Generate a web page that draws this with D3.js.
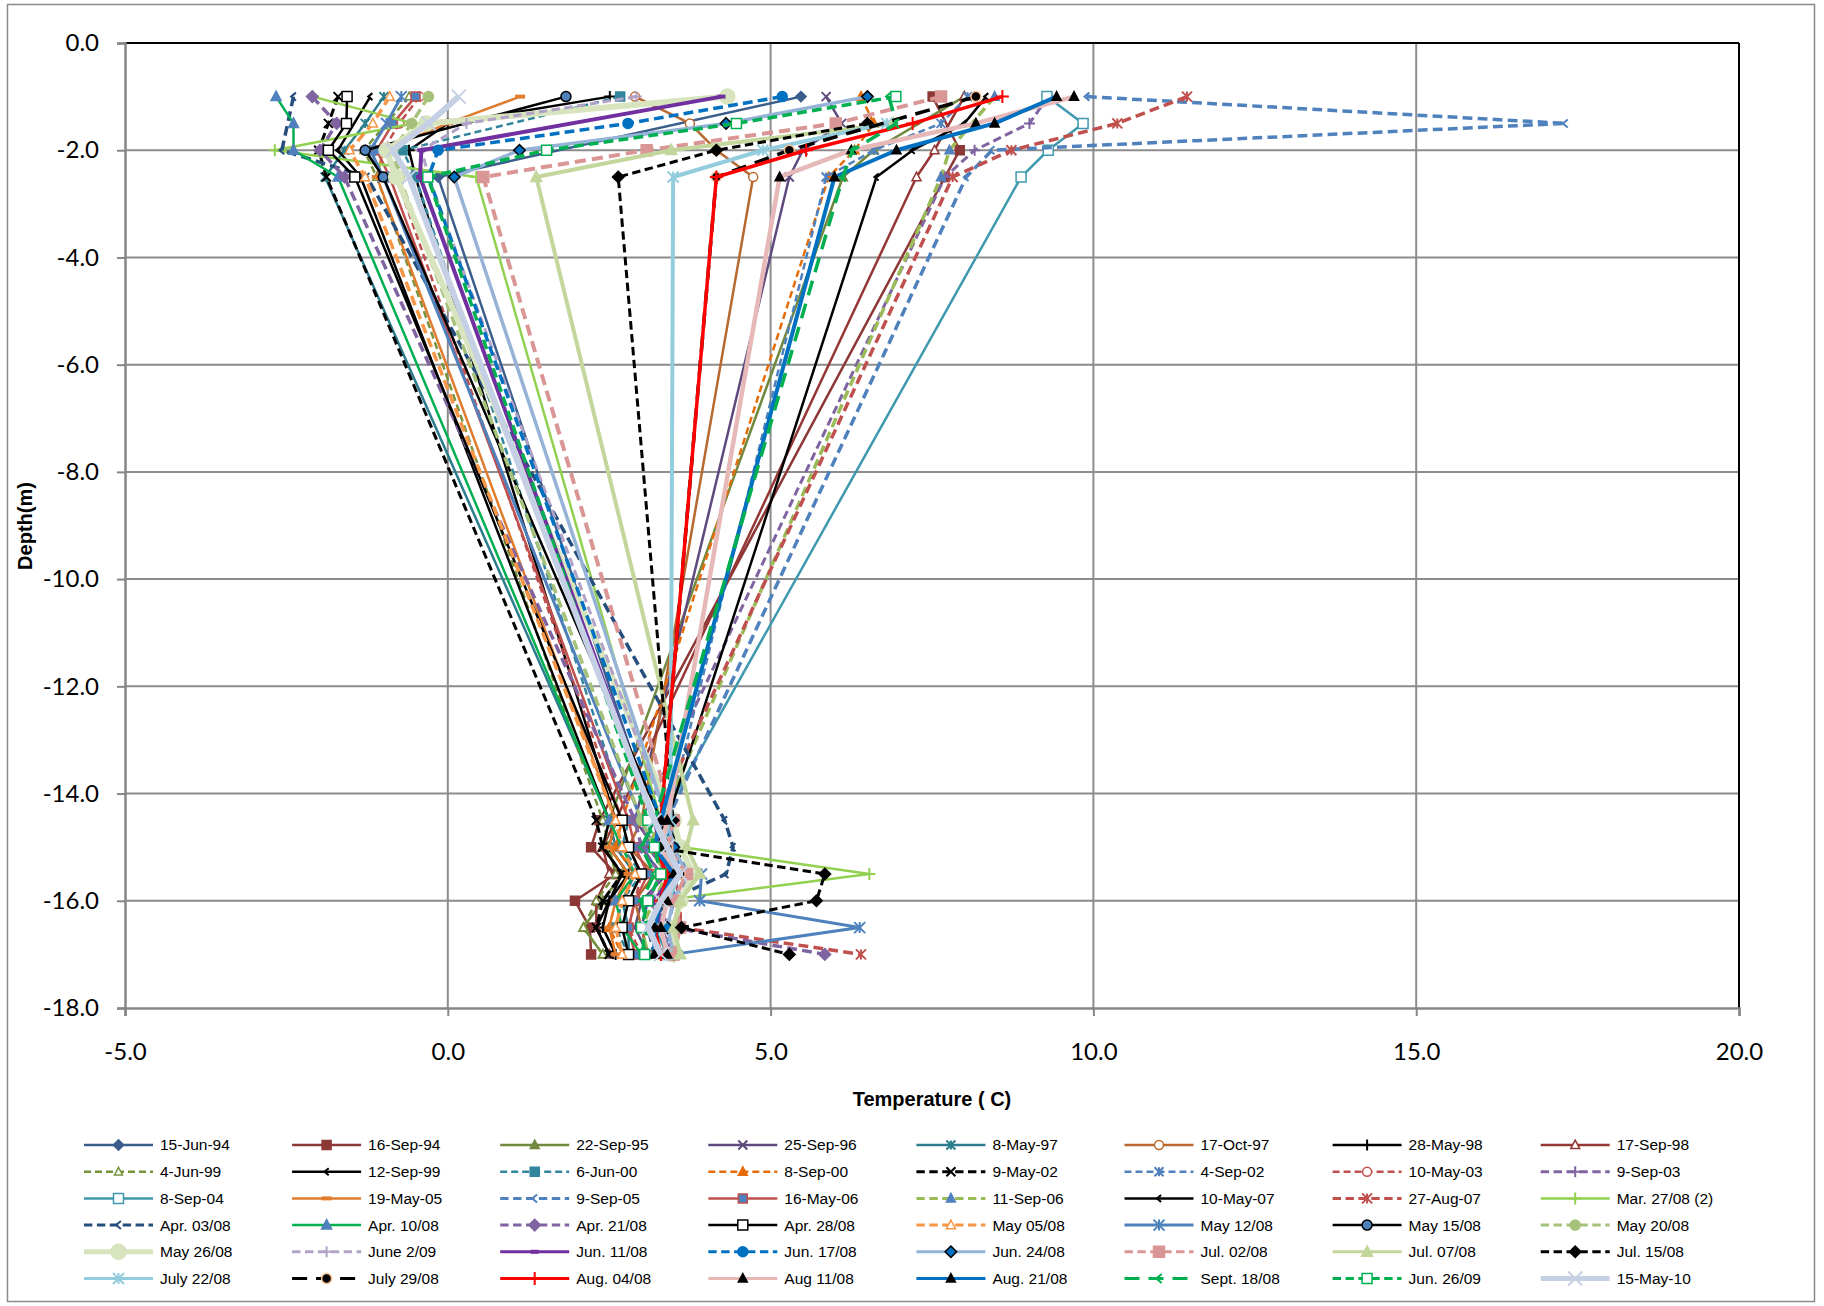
<!DOCTYPE html>
<html><head><meta charset="utf-8">
<script src="https://cdn.jsdelivr.net/npm/d3@7/dist/d3.min.js"></script>
<style>
html,body{margin:0;padding:0;background:#fff;}
svg{display:block;}
</style></head>
<body>
<svg id="c" width="1824" height="1306"></svg>
<script>
// ---------- DATA ----------
const depths = [-1, -1.5, -2, -2.5, -14.5, -15, -15.5, -16, -16.5, -17];
const seriesNames = [
 "15-Jun-94","16-Sep-94","22-Sep-95","25-Sep-96","8-May-97","17-Oct-97","28-May-98","17-Sep-98",
 "4-Jun-99","12-Sep-99","6-Jun-00","8-Sep-00","9-May-02","4-Sep-02","10-May-03","9-Sep-03",
 "8-Sep-04","19-May-05","9-Sep-05","16-May-06","11-Sep-06","10-May-07","27-Aug-07","Mar. 27/08 (2)",
 "Apr. 03/08","Apr. 10/08","Apr. 21/08","Apr. 28/08","May 05/08","May 12/08","May 15/08","May 20/08",
 "May 26/08","June 2/09","Jun. 11/08","Jun. 17/08","Jun. 24/08","Jul. 02/08","Jul. 07/08","Jul. 15/08",
 "July 22/08","July 29/08","Aug. 04/08","Aug 11/08","Aug. 21/08","Sept. 18/08","Jun. 26/09","15-May-10"
];
// temperatures (C) at the depths above, one row per series
const temps = [
 [5.47, null, null, -0.15, 3.2, 3.0, 3.3, 3.1, 3.0, 3.1],
 [7.51, null, 7.93, 7.7, 2.35, 2.22, 2.6, 1.97, 2.2, 2.22],
 [8.0, null, 6.6, 6.12, 2.5, 2.4, 2.7, 2.4, 2.1, 2.4],
 [5.86, 6.1, 5.5, 5.29, 2.9, 3.2, 3.4, 3.0, 2.9, 3.1],
 [-0.99, -1.28, -1.6, -1.9, 2.5, 2.6, 2.9, 2.7, 2.8, 2.8],
 [2.9, 3.75, 4.16, 4.73, 3.0, 2.8, 3.2, 2.9, 3.0, 3.1],
 [2.51, 0.0, -0.6, -0.5, 2.6, 2.5, 2.8, 2.5, 2.4, 2.6],
 [8.0, null, 7.54, 7.26, 2.6, 2.4, 2.5, 2.3, 2.3, 2.5],
 [-0.6, null, -1.3, -1.1, 2.4, 2.5, 2.6, 2.3, 2.1, 2.4],
 [-1.2, null, -1.7, -1.35, 2.5, 2.4, 2.7, 2.5, 2.3, 2.5],
 [2.67, null, -0.7, -0.5, 2.8, 2.7, 3.0, 2.7, 2.6, 2.8],
 [6.40, 6.6, 6.3, 5.9, 2.7, 2.6, 2.9, 2.6, 2.5, 2.7],
 [-1.70, -1.85, -2.0, -1.88, 2.3, 2.4, 2.7, 2.4, 2.3, 2.5],
 [8.05, 7.64, 6.6, 5.86, 3.4, 3.5, 3.3, 3.6, 3.5, 3.3],
 [-0.44, -0.75, -1.0, -0.8, 2.7, 2.8, 3.0, 2.9, 2.8, 3.0],
 [9.3, 9.01, 8.16, 7.7, 3.0, 3.1, 3.4, 3.2, 3.3, 3.5],
 [9.28, 9.84, 9.30, 8.88, 3.3, 3.2, 3.5, 3.3, 3.2, 3.4],
 [1.12, 0.0, -1.0, -1.1, 2.6, 2.5, 2.8, 2.6, 2.5, 2.6],
 [9.9, 17.31, 8.43, 8.03, 3.4, 3.6, 3.8, 3.5, 3.4, 3.6],
 [-0.5, -0.85, -1.1, -0.9, 2.8, 2.9, 3.1, 2.9, 2.8, 2.9],
 [8.47, null, 7.77, 7.64, 3.3, 3.1, 3.4, 3.2, 3.0, 3.1],
 [8.34, 8.0, 7.2, 6.64, 3.4, 3.3, 3.5, 3.3, 3.2, 3.3],
 [11.45, 10.37, 8.73, 7.82, 3.2, 3.4, 3.5, 3.6, 3.6, 6.40],
 [-2.09, -0.54, -2.68, 0.44, 3.3, 3.64, 6.53, 3.28, 3.2, 3.3],
 [-2.39, null, -2.57, -1.25, 4.29, 4.42, 4.31, 3.4, 3.1, 3.2],
 [-2.66, -2.39, -2.39, -1.70, 2.5, 2.7, 2.9, 2.6, 2.7, 3.0],
 [-2.10, -1.72, -1.98, -1.6, 2.9, 3.0, 3.3, 3.1, 3.48, 5.84],
 [-1.56, -1.57, -1.85, -1.44, 2.7, 2.8, 3.0, 2.8, 2.7, 2.8],
 [-0.9, -1.16, -1.52, -1.28, 2.6, 2.7, 2.9, 2.7, 2.6, 2.7],
 [-0.72, -0.95, -1.2, -1.0, 3.0, 3.2, 3.93, 3.9, 6.38, 3.49],
 [1.83, null, -1.28, -1.0, 3.3, 3.64, 3.5, 3.3, 3.2, 3.3],
 [-0.30, -0.56, -0.85, -0.75, 3.0, 3.2, 3.6, 3.3, 3.2, 3.3],
 [4.33, -0.33, -0.95, -0.8, 3.5, 3.6, 3.8, 3.6, 3.5, 3.49],
 [2.92, 0.29, -0.4, -0.3, 3.4, 3.3, 3.6, 3.4, 3.3, 3.4],
 [4.24, null, -0.41, -0.43, 3.2, 3.3, 3.5, 3.2, 3.3, 3.4],
 [5.18, 2.79, -0.15, -0.3, 3.3, 3.5, 3.6, 3.4, 3.3, 3.4],
 [6.5, 4.31, 1.11, 0.1, 3.4, 3.5, 3.7, 3.49, 3.4, 3.5],
 [7.64, 6.01, 3.08, 0.55, 3.5, 3.4, 3.7, 3.5, 3.6, 3.5],
 [null, 6.9, 3.46, 1.37, 3.8, 3.7, 3.9, 3.6, 3.5, 3.6],
 [null, 6.5, 4.16, 2.64, 3.49, 3.2, 5.84, 5.71, 3.62, 5.29],
 [null, 6.8, 4.88, 3.49, 3.45, 3.3, 3.6, 3.4, 3.3, 3.4],
 [8.18, null, 5.29, 4.16, 3.3, 3.4, 3.6, 3.3, 3.2, 3.3],
 [8.59, 7.2, 5.55, 4.16, 3.3, 3.2, 3.4, 3.3, 3.2, 3.3],
 [9.70, 8.18, 6.25, 5.14, 3.4, 3.3, 3.5, 3.4, 3.3, 3.4],
 [9.43, 8.47, 6.95, 5.99, 3.3, 3.2, 3.5, 3.3, 3.2, 3.2],
 [6.83, 6.95, 6.27, 6.12, 3.2, 3.0, 3.2, 3.0, 3.1, 3.0],
 [6.94, 4.47, 1.53, -0.31, 3.1, 3.2, 3.3, 3.1, 3.0, 3.05],
 [0.17, -0.3, -0.85, -0.6, 3.2, 3.4, 3.6, 3.3, 3.1, 3.3]
];
const xTicks = [-5, 0, 5, 10, 15, 20];
const yTicks = [0, -2, -4, -6, -8, -10, -12, -14, -16, -18];
const xTitle = "Temperature ( C)";
const yTitle = "Depth(m)";

// ---------- STYLES ----------
const colors = ["#3A5D8C","#8C3836","#71893F","#5E4A7D","#2C7D8E","#B7692F","#000000","#953735",
 "#77933C","#000000","#31859C","#E46C0A","#000000","#4F81BD","#C0504D","#8064A2",
 "#3F98AE","#E07C2E","#4F81BD","#C0504D","#9BBB59","#000000","#C0504D","#92D050",
 "#254E7D","#00B050","#8064A2","#000000","#F79646","#4F81BD","#000000","#A6C27A",
 "#D7E4BD","#B3A2C7","#7030A0","#0070C0","#95B3D7","#D99694","#C3D69B","#000000",
 "#93CDDD","#000000","#FF0000","#E6B9B8","#0070C0","#00B050","#00B050","#C6D0E4"];
const dashes = ["","","","","","","","",
 "d","","d","d","d","d","d","d",
 "","","d","","d","","d","",
 "d","","d","","d","","","d",
 "","d","","d","","d","","d",
 "","L","","","","L","d",""];
const widths = [2.5,2.5,2.5,2.5,2.5,2.5,2.5,2.5,
 2.5,2.5,2.5,2.5,3,2.5,2.5,3,
 2.5,2.5,3.5,2.5,3.5,2.5,3.5,2.5,
 3.5,2.5,3.5,2.5,3.5,3,2.5,3.5,
 6,3,4,3.5,3.5,4,4,3,
 4,3.5,3.5,4.5,4,3.5,3.5,6];
// marker: [shape, fill, stroke, size]
const markers = [
 ["diamond","#3A5D8C","#3A5D8C",9],["square","#8C3836","#8C3836",9],["triangle","#71893F","#71893F",9],["x",null,"#5E4A7D",9],
 ["asterisk",null,"#2C7D8E",9],["circle","#fff","#B7692F",9],["plus",null,"#000",11],["triangle","#fff","#953735",9],
 ["triangle","#fff","#77933C",8],["lt",null,"#000",7],["square","#31859C","#31859C",9],["triangle","#E46C0A","#E46C0A",9],
 ["x",null,"#000",9],["asterisk",null,"#4F81BD",9],["circle","#fff","#C0504D",9],["plus",null,"#8064A2",11],
 ["square","#fff","#3F98AE",10],["dash",null,"#E07C2E",10],["lt",null,"#4F81BD",8],["square","#4F81BD","#C0504D",9],
 ["triangle","#4F81BD","#4F81BD",9],["lt",null,"#000",7],["asterisk",null,"#C0504D",10],["plus",null,"#92D050",12],
 ["lt",null,"#254E7D",8],["triangle","#4F81BD","#4F81BD",10],["diamond","#8064A2","#8064A2",10],["square","#fff","#000",10],
 ["triangle","#fff","#F79646",9],["asterisk",null,"#4F81BD",11],["circle","#4F81BD","#000",10],["circle","#A6C27A","#A6C27A",10],
 ["circle","#D7E4BD","#D7E4BD",15],["plus",null,"#B3A2C7",11],["dash",null,"#7030A0",8],["circle","#0070C0","#0070C0",10],
 ["diamond","#0070C0","#000",10],["square","#D99694","#D99694",11],["triangle","#C3D69B","#C3D69B",11],["diamond","#000","#000",10],
 ["asterisk",null,"#93CDDD",11],["circle","#000","#FAC090",10],["plus",null,"#FF0000",13],["triangle","#000","#000",9],
 ["triangle","#000","#000",9],["lt",null,"#00B050",9],["square","#fff","#00B050",10],["x",null,"#C6D0E4",14]
];

// ---------- LAYOUT ----------
const svg = d3.select("#c");
const plot = {left:125, right:1739, top:43, bottom:1008};
const x = d3.scaleLinear().domain([-5,20]).range([plot.left, plot.right]);
const y = d3.scaleLinear().domain([-18,0]).range([plot.bottom, plot.top]);
const fmt = d => d.toFixed(1);

// outer border
svg.append("rect").attr("x",7.5).attr("y",4.5).attr("width",1807).attr("height",1297)
  .attr("fill","#fff").attr("stroke","#8a8a8a").attr("stroke-width",1.5);

// gridlines
svg.append("g").selectAll("line").data(yTicks.filter(v=>v!==0 && v!==-18)).join("line")
  .attr("x1",plot.left).attr("x2",plot.right).attr("y1",d=>y(d)).attr("y2",d=>y(d))
  .attr("stroke","#8c8c8c").attr("stroke-width",2);
svg.append("g").selectAll("line").data(xTicks.filter(v=>v!==-5 && v!==20)).join("line")
  .attr("y1",plot.top).attr("y2",plot.bottom).attr("x1",d=>x(d)).attr("x2",d=>x(d))
  .attr("stroke","#8c8c8c").attr("stroke-width",2);

// plot frame: top and right dark
svg.append("line").attr("x1",plot.left).attr("x2",plot.right).attr("y1",plot.top).attr("y2",plot.top)
  .attr("stroke","#000").attr("stroke-width",2);
svg.append("line").attr("x1",plot.right).attr("x2",plot.right).attr("y1",plot.top).attr("y2",plot.bottom)
  .attr("stroke","#000").attr("stroke-width",2);

// axes
const yAxis = d3.axisLeft(y).tickValues(yTicks).tickFormat(fmt).tickSize(8).tickPadding(18);
const gy = svg.append("g").attr("transform",`translate(${plot.left},0)`).call(yAxis);
const xAxis = d3.axisBottom(x).tickValues(xTicks).tickFormat(fmt).tickSize(8).tickPadding(27);
const gx = svg.append("g").attr("transform",`translate(0,${plot.bottom})`).call(xAxis);
[gx,gy].forEach(g=>{
  g.select(".domain").attr("stroke","#868686").attr("stroke-width",2.5);
  g.selectAll(".tick line").attr("stroke","#868686").attr("stroke-width",2);
  g.selectAll(".tick text").attr("font-family","Lato, 'Open Sans', sans-serif").attr("font-size",24).attr("fill","#000");
});

// axis titles
svg.append("text").attr("x",(plot.left+plot.right)/2).attr("y",1106).attr("text-anchor","middle")
  .attr("font-family","'Liberation Sans', Arial, sans-serif").attr("font-weight","bold").attr("font-size",20)
  .text(xTitle);
svg.append("text").attr("transform","translate(32,526) rotate(-90)").attr("text-anchor","middle")
  .attr("font-family","'Liberation Sans', Arial, sans-serif").attr("font-weight","bold").attr("font-size",20)
  .text(yTitle);

// ---------- MARKERS ----------
function markerPath(shape, s){
  const h = s/2;
  switch(shape){
    case "circle": return d3.symbol(d3.symbolCircle, Math.PI*h*h)();
    case "square": return `M${-h},${-h}H${h}V${h}H${-h}Z`;
    case "diamond": { const k=h*1.15; return `M0,${-k}L${k},0L0,${k}L${-k},0Z`; }
    case "triangle": return `M0,${-h*1.1}L${h},${h*0.8}L${-h},${h*0.8}Z`;
    case "x": return `M${-h},${-h}L${h},${h}M${-h},${h}L${h},${-h}`;
    case "plus": return `M${-h},0L${h},0M0,${-h}L0,${h}`;
    case "asterisk": return `M${-h},${-h}L${h},${h}M${-h},${h}L${h},${-h}M0,${-h}L0,${h}`;
    case "dash": return `M${-h},0L${h},0`;
    case "lt": return `M${h*0.6},${-h}L${-h*0.6},0L${h*0.6},${h}`;
  }
  return "";
}
function drawMarker(g, m, px, py){
  const [shape, fill, stroke, size] = m;
  const open = (fill===null);
  g.append("path").attr("d", markerPath(shape,size))
   .attr("transform",`translate(${px},${py})`)
   .attr("fill", open ? "none" : fill)
   .attr("stroke", stroke)
   .attr("stroke-width", shape==="dash" ? 4 : (open ? 2 : 1.5))
   .attr("stroke-linejoin","miter");
}
const dashArr = (k, w) => k==="d" ? `${Math.max(7,w*2.8)},${Math.max(4,w*1.5)}` : (k==="L" ? "15,9" : null);

// ---------- SERIES ----------
const line = d3.line().x(p=>x(p.t)).y(p=>y(p.d));
const gSeries = svg.append("g");
temps.forEach((row, i) => {
  const pts = row.map((t,j)=>({t:t, d:depths[j]})).filter(p=>p.t!==null);
  const g = gSeries.append("g");
  g.append("path").datum(pts).attr("d", line)
    .attr("fill","none").attr("stroke", colors[i]).attr("stroke-width", widths[i])
    .attr("stroke-dasharray", dashArr(dashes[i], widths[i]))
    .attr("stroke-linejoin","round");
  pts.forEach(p => drawMarker(g, markers[i], x(p.t), y(p.d)));
});

// ---------- LEGEND ----------
const legX0 = 84, legDX = 208.1, legY0 = 1145, legDY = 26.7, legLen = 69;
const gLeg = svg.append("g");
seriesNames.forEach((name,i)=>{
  const col = i % 8, rw = Math.floor(i/8);
  const lx = legX0 + col*legDX, ly = legY0 + rw*legDY;
  const g = gLeg.append("g");
  const lw = (i===32 || i===47) ? 5 : Math.min(widths[i], 3);
  g.append("line").attr("x1",lx).attr("x2",lx+legLen).attr("y1",ly).attr("y2",ly)
    .attr("stroke",colors[i]).attr("stroke-width",lw)
    .attr("stroke-dasharray", dashArr(dashes[i], lw));
  drawMarker(g, markers[i], lx+legLen/2, ly);
  g.append("text").attr("x",lx+76).attr("y",ly).attr("dy","0.35em")
    .attr("font-family","'Liberation Sans', Arial, sans-serif").attr("font-size",15.5).attr("fill","#000")
    .text(name);
});
</script>
</body></html>
